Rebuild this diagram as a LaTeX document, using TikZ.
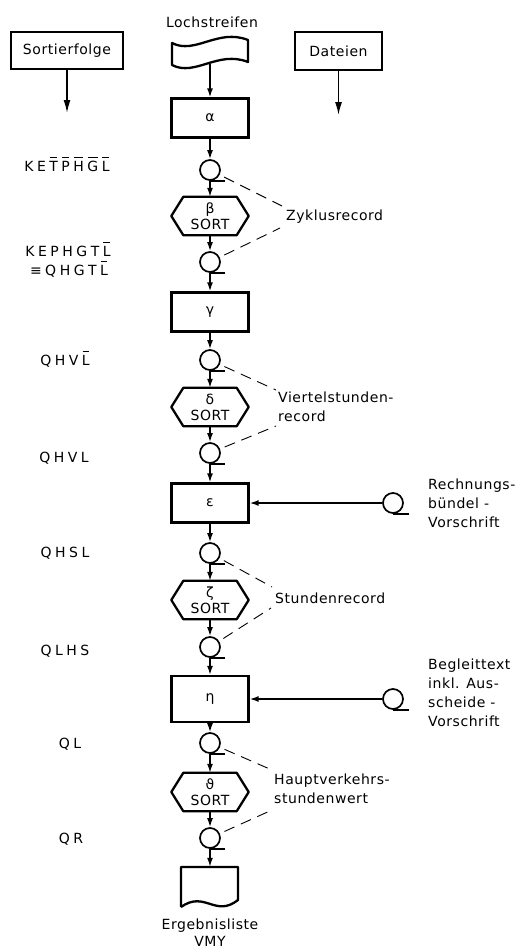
\documentclass[tikz,border=0pt]{standalone}
\usepackage{fontspec}
\setmainfont{DejaVu Sans}[LetterSpace=4]
\newfontfamily\labfont{DejaVu Sans}
\usetikzlibrary{arrows.meta}
\newcommand\ob[1]{\setbox0\hbox{#1}\rlap{\kern0.6pt\raisebox{12.8pt}{\rule{\dimexpr\wd0-1.2pt\relax}{1pt}}}#1}
\newcommand\gp{\kern3.5pt}
\newcommand\hexo[1]{\draw[line width=2.3pt, line join=round] ([xshift=12pt]#1.north west) -- ([xshift=-12pt]#1.north east) -- (#1.east) -- ([xshift=-12pt]#1.south east) -- ([xshift=12pt]#1.south west) -- (#1.west) -- cycle;}
\tikzset{
 base/.style={font=\fontsize{14}{19}\selectfont, inner sep=0pt},
 procbox/.style={base, draw, line width=2.3pt, minimum width=77pt, minimum height=39pt},
 hexn/.style={font=\fontsize{14}{16}\selectfont, inner sep=0pt, minimum width=77pt, minimum height=38pt, align=center},
 tape/.style={circle, draw, line width=1.7pt, minimum size=20pt, inner sep=0pt},
 tail/.style={line width=1.7pt},
 arr/.style={line width=1.5pt, -{Latex[length=9pt,width=6pt]}},
 arrbig/.style={line width=1.5pt, -{Latex[length=13pt,width=7pt]}},
 dsh/.style={line width=0.9pt, dash pattern=on 11pt off 7pt, shorten <=5pt},
 lbl/.style={base, align=left, anchor=west},
 leftlbl/.style={font=\fontsize{14}{19}\labfont, inner sep=0pt, anchor=base},
 shapeline/.style={line width=2.3pt, line join=round},
}
\begin{document}
\begin{tikzpicture}[x=1pt,y=-1pt]
\useasboundingbox (0,0) rectangle (520,950);

% header boxes
\node[procbox, minimum width=112pt, minimum height=37pt] (sf) at (67,50.5) {Sortierfolge};
\node[procbox, minimum width=87pt, minimum height=38pt] (dat) at (338.5,51) {Dateien};
\coordinate (sfend) at (67,113);
\coordinate (datend) at (338.5,115);
\draw[arrbig] (sf) -- (sfend);
\draw[arrbig] (dat) -- (datend);

% punched tape
\node[base] (loch) at (212,22) {Lochstreifen};
\node[inner sep=0pt, minimum width=76pt, minimum height=23pt] (ls) at (210,52) {};
\draw[shapeline] (172,43) .. controls (195,55) and (218,28) .. (248,40) -- (248,62) .. controls (218,50) and (195,77) .. (172,65) -- cycle;

% main column
\node[procbox] (alpha) at (210,118) {α};
\node[tape] (t1) at (210,170) {};
\node[hexn] (beta) at (210,216) {β\\SORT};
\node[tape] (t2) at (210,262) {};
\node[procbox] (gamma) at (210,312) {γ};
\node[tape] (t3) at (210,360) {};
\node[hexn] (delta) at (210,407) {δ\\SORT};
\node[tape] (t4) at (210,453) {};
\node[procbox] (eps) at (210,503) {ε};
\node[tape] (t5) at (210,553) {};
\node[hexn] (zeta) at (210,600) {ζ\\SORT};
\node[tape] (t6) at (210,647) {};
\node[procbox, minimum height=46pt] (eta) at (210,699) {η};
\node[tape] (t7) at (210,743) {};
\node[hexn] (theta) at (210,792) {ϑ\\SORT};
\node[tape] (t8) at (210,838) {};
\node[inner sep=0pt, minimum width=57pt, minimum height=40pt] (doc) at (210,887) {};
\draw[shapeline] (181,907) -- (181,867) -- (238,867) -- (238,900) .. controls (215,918) and (205,890) .. (181,907);
\node[font=\fontsize{14}{17}\selectfont, inner sep=0pt, align=center] (erg) at (210,932.5) {Ergebnisliste\\VMY};

\hexo{beta}\hexo{delta}\hexo{zeta}\hexo{theta}
\foreach \t in {t1,t2,t3,t4,t5,t6,t7,t8} {\draw[tail] (\t.south) -- ++(15,0);}

\draw[arr] (ls) -- (alpha);
\draw[arr] (alpha) -- (t1);
\draw[arr] (t1) -- (beta);
\draw[arr] (beta) -- (t2);
\draw[arr] (t2) -- (gamma);
\draw[arr] (gamma) -- (t3);
\draw[arr] (t3) -- (delta);
\draw[arr] (delta) -- (t4);
\draw[arr] (t4) -- (eps);
\draw[arr] (eps) -- (t5);
\draw[arr] (t5) -- (zeta);
\draw[arr] (zeta) -- (t6);
\draw[arr] (t6) -- (eta);
\draw[arr] (eta) -- (t7);
\draw[arr] (t7) -- (theta);
\draw[arr] (theta) -- (t8);
\draw[arr] (t8) -- (doc);

% side inputs
\node[tape] (r1) at (393,503) {};
\draw[tail] (r1.south) -- ++(16,0);
\draw[arr] (r1) -- (eps);
\node[lbl] (rb) at (428,503) {Rechnungs-\\bündel -\\Vorschrift};
\node[tape] (r2) at (393,699) {};
\draw[tail] (r2.south) -- ++(16,0);
\draw[arr] (r2) -- (eta);
\node[lbl] (bt) at (428,693) {Begleittext\\inkl. Aus-\\scheide -\\Vorschrift};

% record labels with dashed leaders
\node[lbl] (zyk) at (286,217) {Zyklusrecord};
\node[lbl] (vie) at (278,407) {Viertelstunden-\\record};
\node[lbl] (stu) at (275,598) {Stundenrecord};
\node[lbl] (hvk) at (274,789) {Hauptverkehrs-\\stundenwert};
\coordinate (z1) at (282,206); \coordinate (z2) at (280,228);
\coordinate (v1) at (276,390); \coordinate (v2) at (276,426);
\coordinate (s1) at (272,587); \coordinate (s2) at (271,608);
\coordinate (h1) at (272,770); \coordinate (h2) at (272,810);
\draw[dsh] (t1) -- (z1); \draw[dsh] (t2) -- (z2);
\draw[dsh] (t3) -- (v1); \draw[dsh] (t4) -- (v2);
\draw[dsh] (t5) -- (s1); \draw[dsh] (t6) -- (s2);
\draw[dsh] (t7) -- (h1); \draw[dsh] (t8) -- (h2);

% sort order labels
\node[leftlbl] (l1) at (67,171) {K\gp E\gp\ob{T}\gp\ob{P}\gp\ob{H}\gp\ob{G}\gp\ob{L}};
\node[leftlbl] (l2a) at (68,256) {K\gp E\gp P\gp H\gp G\gp T\gp\ob{L}};
\node[leftlbl] (l2b) at (69,275) {≡\gp Q\gp H\gp G\gp T\gp\ob{L}};
\node[leftlbl] (l3) at (65,365) {Q\gp H\gp V\gp\ob{L}};
\node[leftlbl] (l4) at (64,462) {Q\gp H\gp V\gp L};
\node[leftlbl] (l5) at (65,557) {Q\gp H\gp S\gp L};
\node[leftlbl] (l6) at (65,655) {Q\gp L\gp H\gp S};
\node[leftlbl] (l7) at (70,748) {Q\gp L};
\node[leftlbl] (l8) at (71,843) {Q\gp R};
\end{tikzpicture}
\end{document}
